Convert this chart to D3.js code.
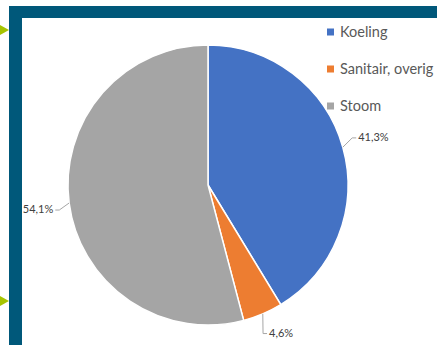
<!DOCTYPE html>
<html>
<head>
  <meta charset="utf-8">
  <title>energie verdeling</title>
  <style>
    body { margin: 0; background: #fff; }
    svg { display: block; }
  </style>
</head>
<body>
  <svg width="437" height="345" class="chart"></svg>

  <script src="https://d3js.org/d3.v7.min.js"></script>
  <script type="text/javascript">

  // data
  var categories = ["Koeling", "Sanitair, overig", "Stoom"];
  var values = [41.3, 4.6, 54.1];
  var valueLabels = ["41,3%", "4,6%", "54,1%"];
  var colors = ["#4472C4", "#ED7D31", "#A5A5A5"];

  var svg = d3.select(".chart");

  // dark frame on the left and top, with the little green arrows
  svg.append("rect").attr("x", 9).attr("y", 6).attr("width", 428).attr("height", 12).attr("fill", "#00587A");
  svg.append("rect").attr("x", 9).attr("y", 6).attr("width", 13).attr("height", 339).attr("fill", "#00587A");
  [30, 301].forEach(function(y) {
    svg.append("path")
      .attr("d", "M0," + (y - 5) + "L9," + y + "L0," + (y + 5) + "Z")
      .attr("fill", "#A6C400");
  });

  var cx = 208, cy = 185, r = 140;
  var g = svg.append("g").attr("transform", "translate(" + cx + "," + cy + ")");

  var pie = d3.pie().sort(null).value(function(d) { return d; });
  var arcs = pie(values);
  var arc = d3.arc().innerRadius(0).outerRadius(r);

  g.selectAll("path.slice")
    .data(arcs)
    .enter().append("path")
    .attr("class", "slice")
    .attr("d", arc)
    .attr("fill", function(d, i) { return colors[i]; })
    .attr("stroke", "#fff")
    .attr("stroke-width", 1.5);

  // labels with leader lines, the box corner nearest the pie sits on radius r+16
  function pt(a, rad) {
    return [rad * Math.sin(a), -rad * Math.cos(a)];
  }
  arcs.forEach(function(d, i) {
    var mid = (d.startAngle + d.endAngle) / 2;
    var p0 = pt(mid, r);
    var a = pt(mid, r + 16);
    var right = Math.sin(mid) >= 0;
    var upper = Math.cos(mid) > 0;
    var base = upper ? a[1] - 2 : a[1] + 8;
    var e = [a[0] + (right ? -2 : 2), base - 3];
    var elbow = [e[0] + (right ? -4 : 4), e[1]];
    g.append("polyline")
      .attr("points", [p0, elbow, e].map(function(p) { return p.join(","); }).join(" "))
      .attr("fill", "none")
      .attr("stroke", "#A6A6A6")
      .attr("stroke-width", 1);
    g.append("text")
      .attr("x", a[0])
      .attr("y", base)
      .attr("text-anchor", right ? "start" : "end")
      .attr("font-family", "Lato, 'Open Sans', sans-serif")
      .attr("font-size", 11)
      .attr("fill", "#404040")
      .text(valueLabels[i]);
  });

  // legend
  var legend = svg.append("g").attr("transform", "translate(327,32)");
  var items = legend.selectAll("g")
    .data(categories)
    .enter().append("g")
    .attr("transform", function(d, i) { return "translate(0," + (i * 37) + ")"; });
  items.append("rect")
    .attr("x", 0).attr("y", -3.5)
    .attr("width", 7).attr("height", 7)
    .attr("fill", function(d, i) { return colors[i]; });
  items.append("text")
    .attr("x", 13).attr("y", 5)
    .attr("font-family", "Lato, 'Open Sans', sans-serif")
    .attr("font-size", 14.5)
    .attr("fill", "#595959")
    .text(function(d) { return d; });

  </script>
</body>
</html>
